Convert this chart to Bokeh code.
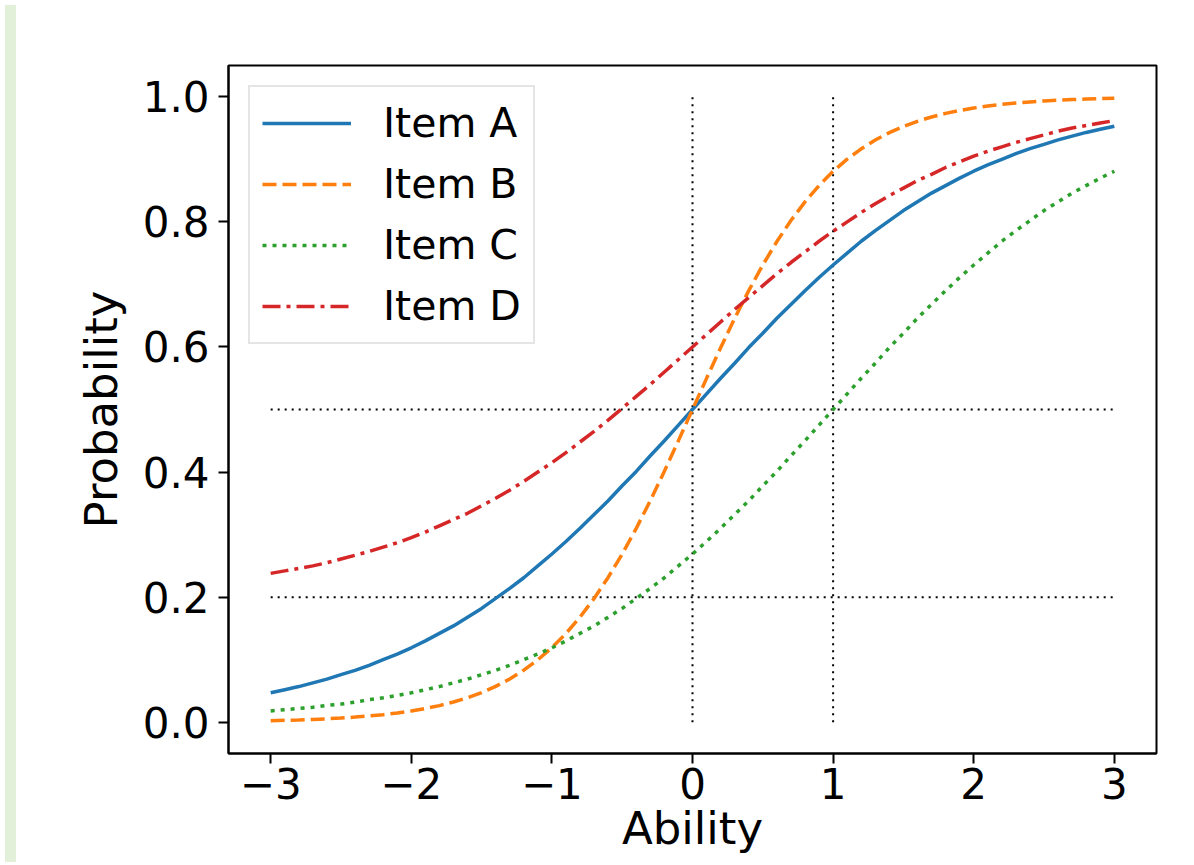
from bokeh.plotting import figure
from bokeh.models import Range1d, FixedTicker, Div, Legend
from bokeh.layouts import row
from bokeh.embed import file_html
from bokeh.resources import INLINE

# ---- data ----
ability = [-3.0, -2.9, -2.8, -2.7, -2.6, -2.5, -2.4, -2.3, -2.2, -2.1,
           -2.0, -1.9, -1.8, -1.7, -1.6, -1.5, -1.4, -1.3, -1.2, -1.1,
           -1.0, -0.9, -0.8, -0.7, -0.6, -0.5, -0.4, -0.3, -0.2, -0.1,
           0.0, 0.1, 0.2, 0.3, 0.4, 0.5, 0.6, 0.7, 0.8, 0.9,
           1.0, 1.1, 1.2, 1.3, 1.4, 1.5, 1.6, 1.7, 1.8, 1.9,
           2.0, 2.1, 2.2, 2.3, 2.4, 2.5, 2.6, 2.7, 2.8, 2.9, 3.0]

item_a = [0.047, 0.052, 0.057, 0.063, 0.069, 0.076, 0.083, 0.091, 0.100, 0.109,
          0.119, 0.130, 0.142, 0.154, 0.168, 0.182, 0.198, 0.214, 0.231, 0.250,
          0.269, 0.289, 0.310, 0.332, 0.354, 0.378, 0.401, 0.426, 0.450, 0.475,
          0.500, 0.525, 0.550, 0.574, 0.599, 0.622, 0.646, 0.668, 0.690, 0.711,
          0.731, 0.750, 0.769, 0.786, 0.802, 0.818, 0.832, 0.846, 0.858, 0.870,
          0.881, 0.891, 0.900, 0.909, 0.917, 0.924, 0.931, 0.937, 0.943, 0.948, 0.953]

item_b = [0.0025, 0.0030, 0.0037, 0.0045, 0.0055, 0.0067, 0.0082, 0.0100, 0.0121, 0.0148,
          0.0180, 0.0219, 0.0266, 0.0323, 0.0392, 0.0474, 0.0573, 0.0691, 0.0832, 0.0998,
          0.1192, 0.1419, 0.1680, 0.1978, 0.2315, 0.2689, 0.3100, 0.3543, 0.4013, 0.4502,
          0.5000, 0.5498, 0.5987, 0.6457, 0.6900, 0.7311, 0.7685, 0.8022, 0.8320, 0.8581,
          0.8808, 0.9002, 0.9168, 0.9309, 0.9427, 0.9526, 0.9608, 0.9677, 0.9734, 0.9781,
          0.9820, 0.9852, 0.9879, 0.9900, 0.9918, 0.9933, 0.9945, 0.9955, 0.9963, 0.9970, 0.9975]

item_c = [0.018, 0.020, 0.022, 0.024, 0.027, 0.029, 0.032, 0.036, 0.039, 0.043,
          0.047, 0.052, 0.057, 0.063, 0.069, 0.076, 0.083, 0.091, 0.100, 0.109,
          0.119, 0.130, 0.142, 0.154, 0.168, 0.182, 0.198, 0.214, 0.231, 0.250,
          0.269, 0.289, 0.310, 0.332, 0.354, 0.378, 0.401, 0.426, 0.450, 0.475,
          0.500, 0.525, 0.550, 0.574, 0.599, 0.622, 0.646, 0.668, 0.690, 0.711,
          0.731, 0.750, 0.769, 0.786, 0.802, 0.818, 0.832, 0.846, 0.858, 0.870, 0.881]

item_d = [0.238, 0.242, 0.246, 0.250, 0.255, 0.261, 0.267, 0.273, 0.280, 0.287,
          0.295, 0.304, 0.314, 0.324, 0.334, 0.346, 0.358, 0.371, 0.385, 0.400,
          0.415, 0.431, 0.448, 0.465, 0.483, 0.502, 0.521, 0.540, 0.560, 0.580,
          0.600, 0.620, 0.640, 0.660, 0.679, 0.698, 0.717, 0.735, 0.752, 0.769,
          0.785, 0.800, 0.815, 0.829, 0.842, 0.854, 0.866, 0.876, 0.887, 0.896,
          0.905, 0.913, 0.920, 0.927, 0.933, 0.939, 0.945, 0.950, 0.954, 0.958, 0.962]

series_names = ["Item A", "Item B", "Item C", "Item D"]

# reference lines
h_ref_levels = [0.5, 0.2]
h_ref_span = [-3.0, 3.0]
v_ref_levels = [0.0, 1.0]
v_ref_span = [0.0, 1.0]

x_ticks = [-3, -2, -1, 0, 1, 2, 3]
x_tick_labels = ["\u22123", "\u22122", "\u22121", "0", "1", "2", "3"]
y_ticks = [0.0, 0.2, 0.4, 0.6, 0.8, 1.0]
y_tick_labels = ["0.0", "0.2", "0.4", "0.6", "0.8", "1.0"]

FONT = "DejaVu Sans"

p = figure(width=1167, height=857, output_backend="svg", toolbar_location=None,
           x_range=Range1d(-3.3, 3.3), y_range=Range1d(-0.05, 1.05),
           min_border_left=207, min_border_right=32, min_border_top=65, min_border_bottom=102)

p.background_fill_color = "white"
p.border_fill_color = "white"
p.outline_line_color = "black"
p.outline_line_width = 2
p.outline_line_alpha = 1.0
p.xgrid.visible = False
p.ygrid.visible = False

# reference dotted lines
p.segment(x0=[h_ref_span[0]] * len(h_ref_levels), x1=[h_ref_span[1]] * len(h_ref_levels),
          y0=h_ref_levels, y1=h_ref_levels,
          line_color="black", line_width=2, line_dash="2 5")
p.segment(x0=v_ref_levels, x1=v_ref_levels,
          y0=[v_ref_span[0]] * len(v_ref_levels), y1=[v_ref_span[1]] * len(v_ref_levels),
          line_color="black", line_width=2, line_dash="2 5")

r_a = p.line(ability, item_a, line_color="#1f77b4", line_width=3.5)
r_b = p.line(ability, item_b, line_color="#ff7f0e", line_width=3.5, line_dash="14 6")
r_c = p.line(ability, item_c, line_color="#2ca02c", line_width=3.5, line_dash="4 6")
r_d = p.line(ability, item_d, line_color="#d62728", line_width=3.5, line_dash="18 6 4 6")

legend = Legend(items=[(series_names[0], [r_a]), (series_names[1], [r_b]),
                       (series_names[2], [r_c]), (series_names[3], [r_d])],
                location="top_left")
legend.margin = 20
legend.padding = 12
legend.spacing = 13
legend.glyph_width = 89
legend.glyph_height = 48
legend.label_standoff = 32
legend.label_text_font = FONT
legend.label_text_font_size = "41px"
legend.label_text_color = "black"
legend.label_text_baseline = "middle"
legend.border_line_color = "#cccccc"
legend.border_line_width = 2
legend.background_fill_color = "white"
legend.background_fill_alpha = 0.8
p.add_layout(legend)

# axes
for ax in (p.xaxis[0], p.yaxis[0]):
    ax.axis_line_color = "black"
    ax.axis_line_width = 2
    ax.major_tick_line_color = "black"
    ax.major_tick_line_width = 2
    ax.major_tick_out = 10
    ax.major_tick_in = 0
    ax.minor_tick_line_color = None
    ax.major_label_text_font = FONT
    ax.major_label_text_font_size = "42px"
    ax.major_label_text_color = "black"
    ax.axis_label_text_font = FONT
    ax.axis_label_text_font_size = "45px"
    ax.axis_label_text_font_style = "normal"
    ax.axis_label_text_color = "black"

p.xaxis.ticker = FixedTicker(ticks=x_ticks)
p.xaxis.major_label_overrides = {t: s for t, s in zip(x_ticks, x_tick_labels)}
p.xaxis.major_label_standoff = 4
p.xaxis.axis_label = "Ability"
p.xaxis.axis_label_standoff = 0

p.yaxis.ticker = FixedTicker(ticks=y_ticks)
p.yaxis.major_label_overrides = {t: s for t, s in zip(y_ticks, y_tick_labels)}
p.yaxis.major_label_standoff = 9
p.yaxis.axis_label = "Probability"
p.yaxis.axis_label_standoff = 12

strip = Div(width=11, height=857, styles={"background-color": "#e2efd9"})

layout = row(strip, p)

open("out.html", "w").write(file_html(layout, INLINE))
